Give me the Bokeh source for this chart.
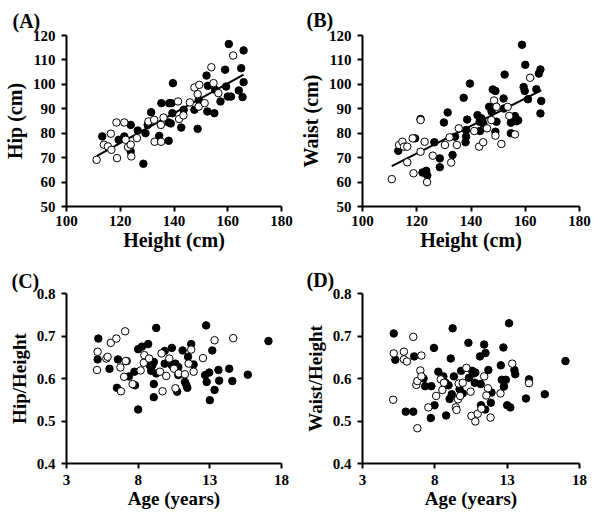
import numpy as np
from bokeh.plotting import figure
from bokeh.models import FixedTicker, Range1d
from bokeh.layouts import gridplot
from bokeh.embed import file_html
from bokeh.resources import INLINE

# ---------------- data ----------------
# Panel A: Height (cm) vs Hip (cm)
ha_f = [113.3,119.4,121.5,123.9,123.9,126.5,128.6,129.4,131.5,130.2,134.5,135.3,138.0,138.2,139.0,138.0,138.8,139.6,139.4,142.7,143.6,147.6,148.8,149.2,152.1,152.4,152.6,155.0,155.3,157.3,159.0,159.4,160.4,160.0,161.2,164.1,165.0,165.9,165.9,165.5]
hip_f = [78.7,77.3,78.7,83.4,72.5,81.1,67.5,80.0,88.6,83.4,78.9,92.3,76.9,92.3,92.3,84.4,84.0,100.5,88.2,82.3,89.6,89.6,81.8,93.7,103.6,88.9,99.4,88.2,97.8,93.0,106.0,99.1,116.5,95.0,95.0,97.5,106.6,113.9,100.9,94.8]
ha_o = [111.2,113.9,115.4,116.5,116.7,118.6,118.8,121.5,122.0,122.9,123.9,124.1,126.2,130.5,132.6,132.8,135.2,135.1,136.1,141.5,141.9,143.5,145.9,147.6,148.8,149.4,149.2,151.4,153.9,154.7,156.5,162.0]
hip_o = [69.1,75.3,74.6,79.8,73.2,84.4,69.8,84.4,77.3,74.3,75.3,70.5,78.0,84.8,85.5,76.5,76.5,83.4,86.4,93.0,85.8,87.3,92.6,98.7,96.0,99.8,90.9,92.3,107.0,100.5,96.4,111.8]

# Panel B: Height (cm) vs Waist (cm)
hb_f = [113.2,119.4,121.4,122.1,123.5,123.9,126.5,128.5,128.5,130.0,131.4,133.2,134.1,137.3,138.0,138.2,138.6,139.6,138.2,142.4,143.2,143.3,143.8,144.1,144.5,146.7,147.6,148.0,149.0,149.0,149.4,152.0,152.1,152.4,154.7,154.7,156.2,156.8,157.4,158.8,159.4,159.8,160.0,161.0,164.1,165.0,165.6,165.9,165.6]
wb_f = [72.8,77.9,85.8,63.9,64.6,62.7,76.3,69.7,66.1,84.4,88.5,71.1,78.6,94.5,76.3,78.6,85.6,100.3,81.3,87.4,84.7,80.9,86.1,85.4,84.0,90.8,88.8,97.9,97.3,80.6,84.7,94.2,90.1,104.0,84.3,80.0,87.0,84.9,85.3,116.2,98.9,97.3,108.0,93.9,98.0,104.4,106.1,93.2,88.1]
hb_o = [110.8,113.5,114.7,115.3,116.5,116.5,118.5,118.8,121.4,121.4,122.9,123.8,125.9,130.4,132.1,132.7,134.8,135.5,141.2,143.0,144.5,145.9,147.5,148.5,149.0,149.4,151.2,153.5,154.1,156.2,161.8]
wb_o = [61.2,75.2,76.5,74.5,74.5,68.1,77.9,63.6,85.4,72.4,76.5,60.0,70.8,75.2,78.3,68.0,75.2,82.0,80.9,74.5,76.3,82.0,85.4,93.4,79.0,90.8,75.6,90.8,87.1,79.5,102.7]

# Panel C: Age (years) vs Hip/Height
ac_f = [5.22,5.17,6.0,6.52,6.59,7.2,7.35,7.74,7.78,8.0,8.0,8.26,8.7,8.83,8.91,8.98,9.09,9.09,9.09,9.26,9.26,9.85,9.85,10.35,10.35,10.6,10.72,10.8,10.8,11.1,11.26,11.37,11.43,11.48,11.7,11.87,12.74,12.67,12.78,12.96,13.0,13.17,13.33,13.6,13.65,14.35,14.57,15.65,17.09]
rc_f = [0.694,0.645,0.623,0.578,0.645,0.641,0.605,0.616,0.584,0.669,0.527,0.675,0.681,0.630,0.618,0.631,0.639,0.587,0.556,0.719,0.612,0.635,0.665,0.672,0.631,0.635,0.569,0.627,0.608,0.666,0.592,0.584,0.578,0.651,0.681,0.633,0.725,0.608,0.592,0.614,0.549,0.666,0.573,0.620,0.595,0.623,0.594,0.609,0.688]
ac_o = [5.17,5.13,5.78,5.87,6.09,6.48,6.76,6.8,7.02,7.09,7.13,7.61,8.17,8.39,8.43,8.76,9.52,9.63,9.7,9.96,10.17,10.5,10.6,10.83,11.26,11.52,11.7,11.87,12.52,13.33,14.63]
rc_o = [0.663,0.620,0.647,0.651,0.684,0.694,0.626,0.570,0.604,0.711,0.641,0.587,0.619,0.637,0.655,0.647,0.616,0.659,0.570,0.606,0.647,0.623,0.577,0.612,0.610,0.635,0.668,0.616,0.648,0.690,0.695]

# Panel D: Age (years) vs Waist/Height
ad_f = [5.16,5.27,5.99,6.51,6.57,7.22,7.33,7.76,7.72,7.94,7.98,8.24,8.59,8.78,8.74,8.95,9.1,9.02,9.17,9.23,9.32,9.71,9.82,9.93,10.32,10.36,10.58,10.69,10.76,10.8,11.12,11.17,11.19,11.41,11.48,11.5,11.7,11.87,11.92,12.56,12.63,12.74,12.78,12.91,13.0,13.13,13.22,13.5,13.56,14.3,14.51,15.6,17.03]
rd_f = [0.706,0.644,0.522,0.522,0.652,0.600,0.582,0.582,0.507,0.672,0.537,0.616,0.605,0.513,0.590,0.584,0.647,0.552,0.563,0.718,0.605,0.575,0.618,0.565,0.684,0.602,0.618,0.612,0.590,0.614,0.652,0.587,0.537,0.680,0.527,0.660,0.620,0.543,0.567,0.631,0.597,0.673,0.581,0.597,0.537,0.730,0.532,0.620,0.610,0.553,0.598,0.563,0.641]
ad_o = [5.12,5.16,5.86,5.86,6.07,6.51,6.72,6.79,6.79,7.07,7.0,7.07,7.55,8.09,8.41,8.52,8.63,9.45,9.5,9.6,9.65,9.75,9.93,10.18,10.47,10.53,10.8,10.96,11.22,11.41,11.56,11.67,11.85,12.54,13.35,14.51]
rd_o = [0.550,0.659,0.663,0.645,0.640,0.698,0.585,0.594,0.483,0.654,0.619,0.605,0.532,0.559,0.598,0.573,0.590,0.532,0.526,0.551,0.588,0.559,0.590,0.625,0.569,0.512,0.499,0.517,0.529,0.605,0.560,0.577,0.508,0.565,0.635,0.589]

height_ticks = [100, 120, 140, 160, 180]
cm_ticks = [50, 60, 70, 80, 90, 100, 110, 120]
age_ticks = [3, 8, 13, 18]
ratio_ticks = [0.4, 0.5, 0.6, 0.7, 0.8]

FONT = "Liberation Serif"


def make(panel, xr, yr, xt, yt, xlabel, ylabel, w, h, ml, mr, mt, mb,
         label_size, title_standoff, x_standoff):
    p = figure(width=w, height=h, x_range=Range1d(*xr), y_range=Range1d(*yr),
               output_backend="svg", toolbar_location=None,
               min_border_left=ml, min_border_right=mr,
               min_border_top=mt, min_border_bottom=mb)
    p.outline_line_color = None
    p.grid.visible = False
    p.background_fill_color = "white"
    p.border_fill_color = "white"
    p.xaxis.ticker = FixedTicker(ticks=xt)
    p.yaxis.ticker = FixedTicker(ticks=yt)
    for ax in (p.xaxis[0], p.yaxis[0]):
        ax.axis_line_width = 2
        ax.axis_line_color = "black"
        ax.major_tick_line_width = 2
        ax.major_tick_line_color = "black"
        ax.major_tick_out = 5
        ax.major_tick_in = 0
        ax.minor_tick_line_color = None
        ax.major_label_text_font = FONT
        ax.major_label_text_font_style = "bold"
        ax.major_label_text_font_size = "15px"
        ax.major_label_text_color = "black"
        ax.axis_label_text_font = FONT
        ax.axis_label_text_font_style = "bold"
        ax.axis_label_text_font_size = label_size
        ax.axis_label_text_color = "black"
    p.yaxis.major_label_standoff = 6
    p.yaxis.axis_label_standoff = 4
    p.xaxis.major_label_standoff = x_standoff
    p.xaxis.axis_label_standoff = 0
    p.xaxis.axis_label = xlabel
    p.yaxis.axis_label = ylabel
    p.title.text = panel
    p.title.text_font = FONT
    p.title.text_font_style = "bold"
    p.title.text_font_size = "20px"
    p.title.text_color = "black"
    p.title.align = "left"
    p.title.offset = -ml
    p.title.standoff = title_standoff
    return p


def dots(p, xf, yf, xo, yo):
    p.scatter(xf, yf, size=7.5, fill_color="black", line_color="black", line_width=1)
    p.scatter(xo, yo, size=7.5, fill_color="white", line_color="black", line_width=1)


def fit_line(p, xs, ys):
    x = np.array(xs)
    y = np.array(ys)
    k, b = np.polyfit(x, y, 1)
    xx = np.array([x.min(), x.max()])
    p.line(xx, k * xx + b, line_color="black", line_width=2)


pa = make("(A)", (100, 180), (50, 120), height_ticks, cm_ticks, "Height (cm)", "Hip (cm)",
          296, 262, 54, 15, 34, 56, "20px", 8, 4)
fit_line(pa, ha_f + ha_o, hip_f + hip_o)
dots(pa, ha_f, hip_f, ha_o, hip_o)

pb = make("(B)", (100, 180), (50, 120), height_ticks, cm_ticks, "Height (cm)", "Waist (cm)",
          296, 262, 56, 13, 35, 55, "20px", 9, 4)
fit_line(pb, hb_f + hb_o, wb_f + wb_o)
dots(pb, hb_f, wb_f, hb_o, wb_o)

pc = make("(C)", (3, 18), (0.4, 0.8), age_ticks, ratio_ticks, "Age (years)", "Hip/Height",
          296, 258, 55, 11, 29, 57, "19px", 3, 6)
dots(pc, ac_f, rc_f, ac_o, rc_o)

pd_ = make("(D)", (3, 18), (0.4, 0.8), age_ticks, ratio_ticks, "Age (years)", "Waist/Height",
           296, 258, 56, 9, 31, 56, "19px", 5, 6)
dots(pd_, ad_f, rd_f, ad_o, rd_o)

grid = gridplot([[pa, pb], [pc, pd_]], toolbar_location=None)

open("out.html", "w").write(file_html(grid, INLINE))
